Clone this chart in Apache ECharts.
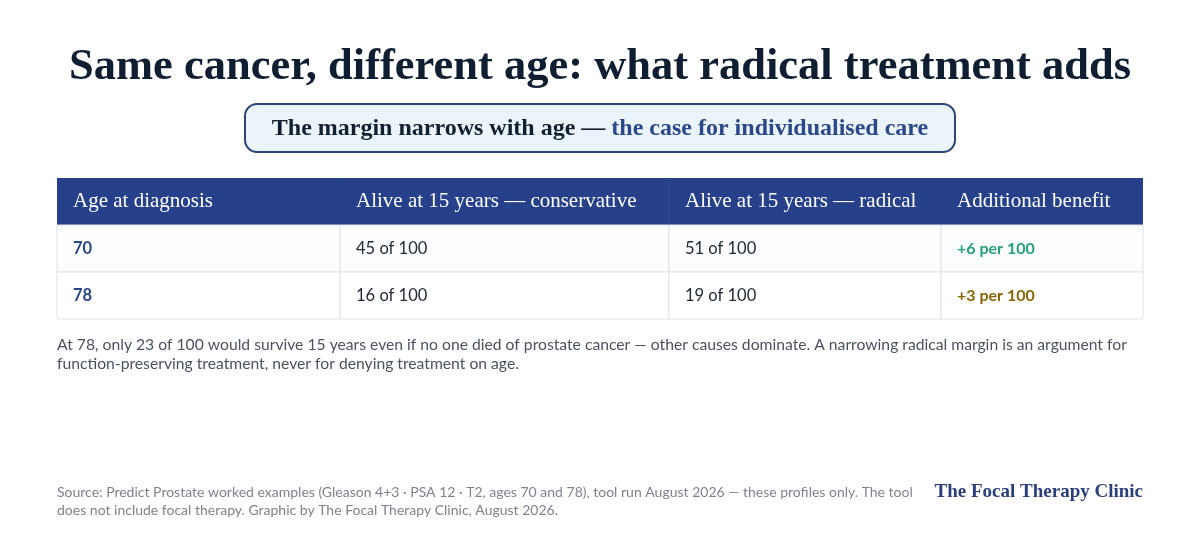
<!DOCTYPE html>
<html>
<head>
<meta charset="utf-8">
<script src="https://cdn.jsdelivr.net/npm/echarts@6/dist/echarts.min.js"></script>
<style>
html,body{margin:0;padding:0;background:#ffffff;}
#chart{width:1200px;height:540px;}
</style>
</head>
<body>
<div id="chart"></div>
<script>
// ---- data ----
const headers = ['Age at diagnosis', 'Alive at 15 years \u2014 conservative', 'Alive at 15 years \u2014 radical', 'Additional benefit'];
const ages = [70, 78];
const conservative = [45, 16];
const radical = [51, 19];
const benefit = [6, 3];
const rowKeys = ['header', '70', '78'];

// ---- layout (not data) ----
const colEdges = [0, 26.06, 56.35, 81.4, 100];
const SERIF = '"Liberation Serif", "DejaVu Serif", serif';
const SANS = 'Lato, "Noto Sans", sans-serif';

// build cells from data arrays
const cells = [];
headers.forEach((h, c) => cells.push({ col: c, row: 0, text: h, kind: 'head' }));
ages.forEach((a, i) => {
  const r = i + 1;
  cells.push({ col: 0, row: r, text: String(a), kind: 'age' });
  cells.push({ col: 1, row: r, text: conservative[i] + ' of 100', kind: 'val' });
  cells.push({ col: 2, row: r, text: radical[i] + ' of 100', kind: 'val' });
  cells.push({ col: 3, row: r, text: '+' + benefit[i] + ' per 100', kind: i === 0 ? 'benefitHi' : 'benefitLo' });
});

const textStyles = {
  head: { fill: '#ffffff', font: '400 21px ' + SERIF },
  age: { fill: '#2b4686', font: '700 16.5px ' + SANS },
  val: { fill: '#1f2733', font: '400 16.5px ' + SANS },
  benefitHi: { fill: '#24a07a', font: '700 16px ' + SANS },
  benefitLo: { fill: '#8a6508', font: '700 16px ' + SANS }
};

const chart = echarts.init(document.getElementById('chart'), null, { renderer: 'canvas' });

const option = {
  backgroundColor: '#ffffff',
  animation: false,
  title: {
    text: 'Same cancer, different age: what radical treatment adds',
    left: 'center',
    top: 40,
    textStyle: { fontFamily: SERIF, fontWeight: 700, fontSize: 44.5, color: '#0f1e30' }
  },
  grid: { left: 57, right: 57, top: 178, height: 141 },
  xAxis: { type: 'value', min: 0, max: 100, show: false },
  yAxis: { type: 'category', data: rowKeys, inverse: true, show: false },
  series: [{
    type: 'custom',
    data: cells.map(c => [c.col, c.row]),
    renderItem: function (params, api) {
      const cell = cells[params.dataIndex];
      const col = api.value(0), row = api.value(1);
      const x0 = api.coord([colEdges[col], row])[0];
      const x1 = api.coord([colEdges[col + 1], row])[0];
      const cy = api.coord([0, row])[1];
      const h = api.size([0, 1])[1];
      const y0 = cy - h / 2;
      const isHead = row === 0;
      const st = textStyles[cell.kind];
      return {
        type: 'group',
        children: [
          {
            type: 'rect',
            shape: { x: x0, y: y0, width: x1 - x0, height: h },
            style: isHead
              ? { fill: '#26418a', stroke: '#26418a', lineWidth: 0 }
              : { fill: row === 1 ? '#fcfdfe' : '#ffffff', stroke: '#dde2e8', lineWidth: 1 }
          },
          {
            type: 'text',
            x: x0 + 16,
            y: cy,
            style: { text: cell.text, fill: st.fill, font: st.font, textAlign: 'left', textVerticalAlign: 'middle' }
          }
        ]
      };
    }
  }],
  graphic: [
    {
      type: 'rect',
      shape: { x: 245, y: 104, width: 710, height: 48, r: 12 },
      style: { fill: '#eaf4fa', stroke: '#2a4675', lineWidth: 2 }
    },
    {
      type: 'text',
      x: 600, y: 129,
      style: {
        text: '{a|The margin narrows with age \u2014 }{b|the case for individualised care}',
        textAlign: 'center', textVerticalAlign: 'middle',
        rich: {
          a: { fontFamily: SERIF, fontSize: 24, fontWeight: 700, fill: '#13202f', color: '#13202f' },
          b: { fontFamily: SERIF, fontSize: 24, fontWeight: 700, fill: '#2c4889', color: '#2c4889' }
        }
      }
    },
    {
      type: 'text',
      x: 57, y: 345,
      style: {
        text: 'At 78, only 23 of 100 would survive 15 years even if no one died of prostate cancer \u2014 other causes dominate. A narrowing radical margin is an argument for',
        fill: '#4a5260', font: '400 15.7px ' + SANS, textVerticalAlign: 'middle'
      }
    },
    {
      type: 'text',
      x: 57, y: 364,
      style: {
        text: 'function-preserving treatment, never for denying treatment on age.',
        fill: '#4a5260', font: '400 15.7px ' + SANS, textVerticalAlign: 'middle'
      }
    },
    {
      type: 'text',
      x: 57, y: 492,
      style: {
        text: 'Source: Predict Prostate worked examples (Gleason 4+3 \u00b7 PSA 12 \u00b7 T2, ages 70 and 78), tool run August 2026 \u2014 these profiles only. The tool',
        fill: '#7d838d', font: '400 14px ' + SANS, textVerticalAlign: 'middle'
      }
    },
    {
      type: 'text',
      x: 57, y: 510,
      style: {
        text: 'does not include focal therapy. Graphic by The Focal Therapy Clinic, August 2026.',
        fill: '#7d838d', font: '400 14px ' + SANS, textVerticalAlign: 'middle'
      }
    },
    {
      type: 'text',
      x: 1143, y: 492,
      style: {
        text: 'The Focal Therapy Clinic',
        fill: '#2b3f7a', font: '700 19px ' + SERIF, textAlign: 'right', textVerticalAlign: 'middle'
      }
    }
  ]
};
chart.setOption(option);
</script>
</body>
</html>
